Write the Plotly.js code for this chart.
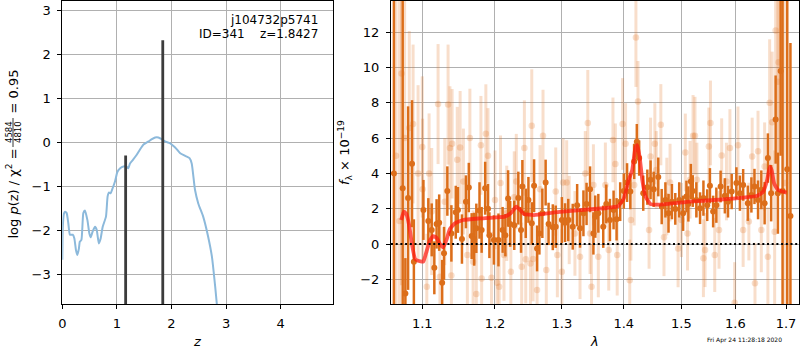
<!DOCTYPE html>
<html><head><meta charset="utf-8">
<script src="https://cdn.plot.ly/plotly-3.0.1.min.js"></script>
<style>body{margin:0;background:#fff}#chart{width:800px;height:350px}</style>
</head><body><div id="chart"></div>
<script>
// ---- left panel: log p(z)
const zGrid = [0, 0.01, 0.03, 0.05, 0.08, 0.11, 0.14, 0.19, 0.22, 0.25, 0.275, 0.305, 0.32, 0.35, 0.385, 0.415, 0.46, 0.495, 0.52, 0.555, 0.6, 0.63, 0.67, 0.70, 0.74, 0.80, 0.83, 0.855, 0.885, 0.92, 0.965, 1.01, 1.06, 1.12, 1.17, 1.21, 1.24, 1.30, 1.36, 1.42, 1.48, 1.58, 1.64, 1.70, 1.76, 1.82, 1.88, 1.97, 2.03, 2.09, 2.16, 2.25, 2.33, 2.37, 2.43, 2.49, 2.58, 2.67, 2.74, 2.80, 2.84];
const logPz = [-2.67, -1.9, -1.62, -1.58, -1.61, -1.84, -2.1, -2.1, -2.18, -2.45, -2.56, -2.41, -2.26, -2.22, -1.61, -1.55, -1.77, -2.07, -2.16, -2.03, -1.92, -1.99, -2.3, -2.2, -1.92, -1.69, -1.23, -1.14, -1.16, -1.05, -0.89, -0.67, -0.59, -0.55, -0.55, -0.59, -0.48, -0.39, -0.29, -0.17, -0.06, 0.02, 0.07, 0.11, 0.11, 0.07, 0.02, -0.02, -0.08, -0.15, -0.25, -0.31, -0.36, -0.48, -1.08, -1.39, -1.69, -2.14, -2.6, -3.28, -3.81];
const zPeaks = [1.16, 1.84];
const peakTop = [-0.3, 2.32];
const peakBase = -10;
const zTicks = [0, 1, 2, 3, 4];
const zTickText = ['0', '1', '2', '3', '4'];
const pTicks = [-3, -2, -1, 0, 1, 2, 3];
const pTickText = ['\u22123', '\u22122', '\u22121', '0', '1', '2', '3'];

// ---- right panel: spectrum
const darkWave = [1.0633, 1.0745, 1.078, 1.0815, 1.0866, 1.089, 1.1015, 1.108, 1.1125, 1.116, 1.119, 1.1225, 1.1265, 1.129, 1.1335, 1.139, 1.145, 1.148, 1.1535, 1.159, 1.163, 1.167, 1.1705, 1.1735, 1.178, 1.181, 1.186, 1.19, 1.192, 1.1985, 1.205, 1.211, 1.215, 1.219, 1.222, 1.228, 1.234, 1.238, 1.240, 1.245, 1.249, 1.254, 1.2575, 1.262, 1.2655, 1.270, 1.275, 1.2795, 1.286, 1.2905, 1.300, 1.305, 1.310, 1.317, 1.324, 1.3286, 1.334, 1.339, 1.3446, 1.350, 1.353, 1.358, 1.366, 1.371, 1.377, 1.383, 1.388, 1.394, 1.400, 1.4055, 1.411, 1.4175, 1.422, 1.426, 1.433, 1.440, 1.4456, 1.451, 1.459, 1.465, 1.4715, 1.477, 1.483, 1.489, 1.496, 1.503, 1.509, 1.5125, 1.517, 1.5205, 1.527, 1.5338, 1.540, 1.547, 1.552, 1.558, 1.564, 1.572, 1.580, 1.586, 1.593, 1.602, 1.6087, 1.615, 1.624, 1.631, 1.637, 1.644, 1.6505, 1.657, 1.6635, 1.670, 1.679, 1.6835, 1.689, 1.693, 1.7025, 1.709];
const darkFlux = [4.0, 3.16, -2.8, 2.6, 4.55, -1.0, 1.93, 1.3, 0.8, -1.35, 1.14, 1.21, -2.2, -0.53, 3.0, 0.6, 1.8, 1.93, 0.28, 2.39, 3.2, 0.45, 0.27, 0.89, 1.9, 0.8, 3.16, 2.0, 0.5, 0.23, 0.23, 0.8, 0.5, 2.58, 1.14, 1.06, 2.6, 0.8, 3.26, 1.74, 2.5, 1.17, 3.3, -0.25, 0.6, 1.74, 3.48, 1.14, 0.95, 0.98, 1.36, 1.21, 1.36, 0.98, 2.2, 0.89, 1.74, 2.27, 3.1, 0.6, 1.55, 1.74, 0.98, 2.27, 1.36, 1.93, 1.4, 2.4, 3.0, 3.48, 2.97, 4.68, 5.8, 4.87, 2.88, 3.22, 3.64, 3.1, 3.8, 2.12, 2.5, 1.74, 2.4, 1.99, 2.5, 1.74, 2.69, 2.27, 3.54, 3.0, 2.5, 2.03, 2.6, 2.2, 3.3, 1.84, 2.2, 3.26, 2.73, 2.4, 2.97, 3.45, 2.88, 3.35, 2.31, 2.78, 3.26, 2.5, 3.07, 2.31, 4.87, 2.88, 7.05, 2.88, 9.8, 3.0, 4.24, 1.59];
const darkErr = [16, 11, 2.0, 5.2, 3.6, 2.4, 1.7, 1.3, 1.5, 1.5, 1.4, 1.6, 1.3, 1.5, 1.4, 1.6, 1.5, 1.3, 1.4, 1.5, 1.4, 1.3, 1.5, 1.4, 1.6, 1.3, 1.5, 1.4, 1.3, 1.4, 1.5, 1.3, 1.2, 1.6, 1.3, 1.4, 1.5, 1.3, 1.5, 1.4, 1.3, 1.2, 1.5, 1.3, 1.2, 1.4, 1.3, 1.2, 1.3, 1.2, 1.3, 1.1, 1.2, 1.3, 1.2, 1.1, 1.3, 1.2, 1.3, 1.2, 1.2, 1.1, 1.2, 1.1, 1.2, 1.1, 1.2, 1.1, 1.0, 1.1, 1.0, 1.0, 1.0, 1.0, 1.0, 1.0, 1.1, 1.0, 1.1, 1.0, 1.0, 1.1, 1.0, 0.9, 1.0, 1.0, 0.9, 1.0, 1.0, 0.9, 1.0, 0.9, 1.0, 0.9, 1.0, 0.9, 1.0, 0.9, 1.0, 0.9, 1.0, 0.9, 1.0, 0.9, 1.0, 1.0, 1.0, 1.1, 1.1, 1.2, 1.4, 1.6, 2.5, 2.3, 4.8, 16, 16, 9.8];

const lightWave = [1.066, 1.0705, 1.073, 1.077, 1.083, 1.088, 1.0945, 1.1, 1.1005, 1.106, 1.109, 1.1125, 1.121, 1.1235, 1.13, 1.1345, 1.137, 1.139, 1.140, 1.147, 1.151, 1.1555, 1.161, 1.1645, 1.169, 1.1735, 1.180, 1.181, 1.187, 1.19, 1.195, 1.2, 1.203, 1.206, 1.208, 1.213, 1.217, 1.223, 1.228, 1.231, 1.239, 1.243, 1.245, 1.252, 1.254, 1.256, 1.262, 1.2665, 1.271, 1.276, 1.2905, 1.293, 1.3, 1.302, 1.3075, 1.3115, 1.3205, 1.3286, 1.337, 1.341, 1.3446, 1.347, 1.35, 1.358, 1.3695, 1.375, 1.382, 1.386, 1.389, 1.398, 1.403, 1.410, 1.412, 1.4175, 1.4205, 1.424, 1.443, 1.4456, 1.453, 1.4555, 1.4635, 1.469, 1.474, 1.4797, 1.494, 1.5, 1.507, 1.511, 1.5155, 1.521, 1.5245, 1.528, 1.540, 1.543, 1.550, 1.553, 1.561, 1.569, 1.574, 1.583, 1.5896, 1.5986, 1.605, 1.615, 1.626, 1.6325, 1.638, 1.644, 1.6505, 1.657, 1.6635, 1.667, 1.672, 1.677, 1.679, 1.6835, 1.685, 1.698];
const lightFlux = [5.0, 1.3, 9.66, 6.0, 6.57, 6.8, 4.0, 5.5, 3.1, -2.42, 4.0, 1.84, 7.93, -1.86, 2.4, 7.9, 5.44, -1.78, 5.68, 4.77, 5.47, 3.54, -0.62, 6.0, -1.0, -2.84, 5.59, -1.95, 6.25, 5.0, -1.91, 2.5, -2.2, -2.42, 3.45, -0.62, 1.74, -1.57, 2.65, 3.54, -1.29, 5.44, -0.87, -1.1, 6.7, -0.85, -2.61, 3.1, 6.14, -1.48, 2.97, -0.62, -1.57, 3.48, 3.48, 1.36, 0.6, -0.72, 4.0, 6.86, 0.6, -2.42, 3.35, -0.72, 3.35, -0.34, 5.9, 4.53, -0.62, 6.8, 5.68, -2.05, 1.36, 3.35, 11.7, 8.07, 0.8, 4.96, 5.68, 4.2, 6.76, 0.38, 2.69, 3.48, -0.25, 1.36, 5.19, 0.6, 3.64, 6.14, 6.14, 3.64, -0.81, -0.34, 5.53, 6.86, -0.62, 0.8, 5.02, 3.54, 5.44, -3.33, 5.59, 0.8, 1.27, 4.96, -2.23, 5.25, 0.8, 4.39, -0.72, 8.0, 6.9, 0.7, 12.1, 9.2, 10.3, 3.45];
const lightErr = [14, 13, 12, 10, 5.5, 4.5, 5.0, 4.0, 4.0, 3.0, 3.4, 3.6, 3.4, 3.0, 3.6, 3.4, 3.5, 2.9, 3.1, 3.0, 3.2, 3.0, 2.9, 2.8, 2.9, 2.9, 2.8, 2.7, 2.8, 2.7, 2.6, 2.8, 2.6, 2.5, 2.7, 2.6, 2.7, 2.5, 2.6, 2.7, 2.5, 2.7, 2.5, 2.5, 3.2, 2.4, 2.5, 2.5, 2.6, 2.5, 2.5, 2.4, 2.4, 2.5, 2.4, 2.5, 2.4, 2.4, 2.4, 3.0, 2.3, 2.4, 2.3, 2.3, 2.4, 2.3, 2.4, 2.3, 2.3, 2.6, 2.3, 2.3, 2.3, 2.3, 2.8, 2.3, 2.2, 2.2, 2.3, 2.2, 2.3, 2.2, 2.2, 2.2, 2.2, 2.1, 2.2, 2.1, 2.2, 2.3, 2.2, 2.1, 2.2, 2.1, 2.2, 2.4, 2.1, 2.2, 2.1, 2.2, 2.2, 2.3, 2.2, 2.1, 2.2, 2.2, 2.3, 2.3, 2.4, 2.5, 2.8, 3.6, 4.0, 4.6, 5.0, 6.0, 7.0, 14];

const modelWave = [1.0726, 1.0761, 1.0793, 1.0831, 1.0868, 1.0906, 1.0944, 1.1013, 1.1058, 1.1102, 1.1146, 1.119, 1.1235, 1.128, 1.1325, 1.137, 1.1438, 1.1552, 1.1784, 1.2138, 1.2228, 1.231, 1.2359, 1.2423, 1.2573, 1.2928, 1.3286, 1.3716, 1.3908, 1.4, 1.4081, 1.4142, 1.4199, 1.4228, 1.4268, 1.4314, 1.4371, 1.4456, 1.462, 1.5155, 1.5771, 1.6411, 1.654, 1.662, 1.6674, 1.671, 1.676, 1.684, 1.7013];
const modelFlux = [1.36, 1.83, 1.7, 1.0, -0.1, -0.85, -0.95, -1.0, -0.4, 0.2, 0.45, 0.35, 0.0, -0.19, 0.25, 0.85, 1.17, 1.36, 1.45, 1.55, 1.74, 2.11, 1.96, 1.70, 1.64, 1.81, 1.92, 2.04, 2.15, 2.58, 3.62, 4.19, 5.51, 5.6, 4.94, 3.62, 2.68, 2.26, 2.23, 2.40, 2.53, 2.72, 2.96, 3.62, 4.38, 4.19, 3.43, 3.06, 2.91];

const waveTicks = [1.1, 1.2, 1.3, 1.4, 1.5, 1.6, 1.7];
const waveTickText = ['1.1', '1.2', '1.3', '1.4', '1.5', '1.6', '1.7'];
const fluxTicks = [-2, 0, 2, 4, 6, 8, 10, 12];
const fluxTickText = ['\u22122', '0', '2', '4', '6', '8', '10', '12'];

// ---- build
const W = 800, H = 350;
const px = v => v / W, py = v => 1 - v / H;

const peakX = [], peakY = [];
zPeaks.forEach((z, i) => { peakX.push(z, z, null); peakY.push(peakBase, peakTop[i], null); });

const DARK = 'rgb(220,110,26)';
const LIGHT = 'rgba(224,112,30,0.23)';

const traces = [
  {x: zGrid, y: logPz, xaxis: 'x', yaxis: 'y', mode: 'lines', line: {color: '#8cb9db', width: 2, shape: 'spline', smoothing: 0.5}, hoverinfo: 'skip'},
  {x: peakX, y: peakY, xaxis: 'x', yaxis: 'y', mode: 'lines', line: {color: '#3c3c3c', width: 2.8}, hoverinfo: 'skip'},
  {x: lightWave, y: lightFlux, xaxis: 'x2', yaxis: 'y2', mode: 'markers',
   marker: {color: LIGHT, size: 6.5, line: {width: 0}},
   error_y: {type: 'data', array: lightErr, visible: true, color: LIGHT, thickness: 3, width: 0}},
  {x: darkWave, y: darkFlux, xaxis: 'x2', yaxis: 'y2', mode: 'markers',
   marker: {color: DARK, size: 6, line: {width: 0}},
   error_y: {type: 'data', array: darkErr, visible: true, color: DARK, thickness: 2.5, width: 0}},
  {x: modelWave, y: modelFlux, xaxis: 'x2', yaxis: 'y2', mode: 'lines', line: {color: 'rgba(255,25,15,0.72)', width: 3.8, shape: 'spline', smoothing: 0.4}}
];

const font = {family: 'DejaVu Sans', size: 12, color: 'black'};
const tickFont = {family: 'DejaVu Sans', size: 13, color: 'black'};
const axBase = {showline: true, mirror: true, linecolor: 'black', linewidth: 1, ticks: 'outside', ticklen: 4, tickwidth: 1, tickcolor: 'black',
  showgrid: true, gridcolor: '#b0b0b0', gridwidth: 1, zeroline: false, tickfont: tickFont, automargin: false, fixedrange: true};

const layout = {
  width: W, height: H, margin: {l: 0, r: 0, t: 0, b: 0}, paper_bgcolor: 'white', plot_bgcolor: 'white',
  showlegend: false, font: font,
  xaxis: Object.assign({}, axBase, {domain: [px(62.3), px(333.3)], range: [0, 4.963], tickvals: zTicks, ticktext: zTickText, ticklabelstandoff: 3, anchor: 'y'}),
  yaxis: Object.assign({}, axBase, {domain: [py(304), py(1)], range: [-3.675, 3.21], tickvals: pTicks, ticktext: pTickText, ticklabelstandoff: 4, anchor: 'x'}),
  xaxis2: Object.assign({}, axBase, {domain: [px(391), px(799)], type: 'log', range: [Math.log10(1.0596), Math.log10(1.7266)], tickvals: waveTicks, ticktext: waveTickText, ticklabelstandoff: 3, anchor: 'y2'}),
  yaxis2: Object.assign({}, axBase, {domain: [py(304), py(1)], range: [-3.40, 13.77], tickvals: fluxTicks, ticktext: fluxTickText, ticklabelstandoff: 4, anchor: 'x2'}),
  shapes: [
    {type: 'line', xref: 'x2 domain', yref: 'y2', x0: 0, x1: 1, y0: 0, y1: 0, layer: 'above', line: {color: 'black', width: 2, dash: '2px,2.7px'}},
    {type: 'line', xref: 'paper', yref: 'paper', x0: px(13), x1: px(13), y0: py(147), y1: py(118), line: {color: 'black', width: 0.8}}
  ],
  annotations: [
    {xref: 'paper', yref: 'paper', x: px(320), y: py(20), xanchor: 'right', yanchor: 'middle', showarrow: false, text: 'j104732p5741', font: font},
    {xref: 'paper', yref: 'paper', x: px(320), y: py(34), xanchor: 'right', yanchor: 'middle', showarrow: false, text: 'ID=341\u00a0\u00a0\u00a0\u00a0z=1.8427', font: font},
    {xref: 'paper', yref: 'paper', x: px(197.5), y: py(341), xanchor: 'center', yanchor: 'middle', showarrow: false, text: '<i>z</i>', font: tickFont},
    {xref: 'paper', yref: 'paper', x: px(594.5), y: py(341), xanchor: 'center', yanchor: 'middle', showarrow: false, text: '<i>\u03bb</i>', font: tickFont},
    {xref: 'paper', yref: 'paper', x: px(744.5), y: py(340), xanchor: 'center', yanchor: 'middle', showarrow: false, text: 'Fri Apr 24 11:28:18 2020', font: {family: 'DejaVu Sans', size: 6, color: 'black'}},
    {xref: 'paper', yref: 'paper', x: px(345), y: py(153), xanchor: 'center', yanchor: 'middle', textangle: -90, showarrow: false, text: '<i>f</i><sub>\u03bb</sub> \u00d7 10<sup>\u221219</sup>', font: tickFont},
    {xref: 'paper', yref: 'paper', x: px(12.5), y: py(194), xanchor: 'center', yanchor: 'middle', textangle: -90, showarrow: false, text: 'log <i>p</i>(z) / \u03c7<sup>2</sup> =', font: tickFont},
    {xref: 'paper', yref: 'paper', x: px(8.5), y: py(132.5), xanchor: 'center', yanchor: 'middle', textangle: -90, showarrow: false, text: '4584', font: {family: 'DejaVu Sans', size: 8.5, color: 'black'}},
    {xref: 'paper', yref: 'paper', x: px(17.5), y: py(132.5), xanchor: 'center', yanchor: 'middle', textangle: -90, showarrow: false, text: '4810', font: {family: 'DejaVu Sans', size: 8.5, color: 'black'}},
    {xref: 'paper', yref: 'paper', x: px(12.5), y: py(92), xanchor: 'center', yanchor: 'middle', textangle: -90, showarrow: false, text: '= 0.95', font: tickFont}
  ]
};

Plotly.newPlot('chart', traces, layout, {staticPlot: true, displayModeBar: false});
</script>
</body></html>
